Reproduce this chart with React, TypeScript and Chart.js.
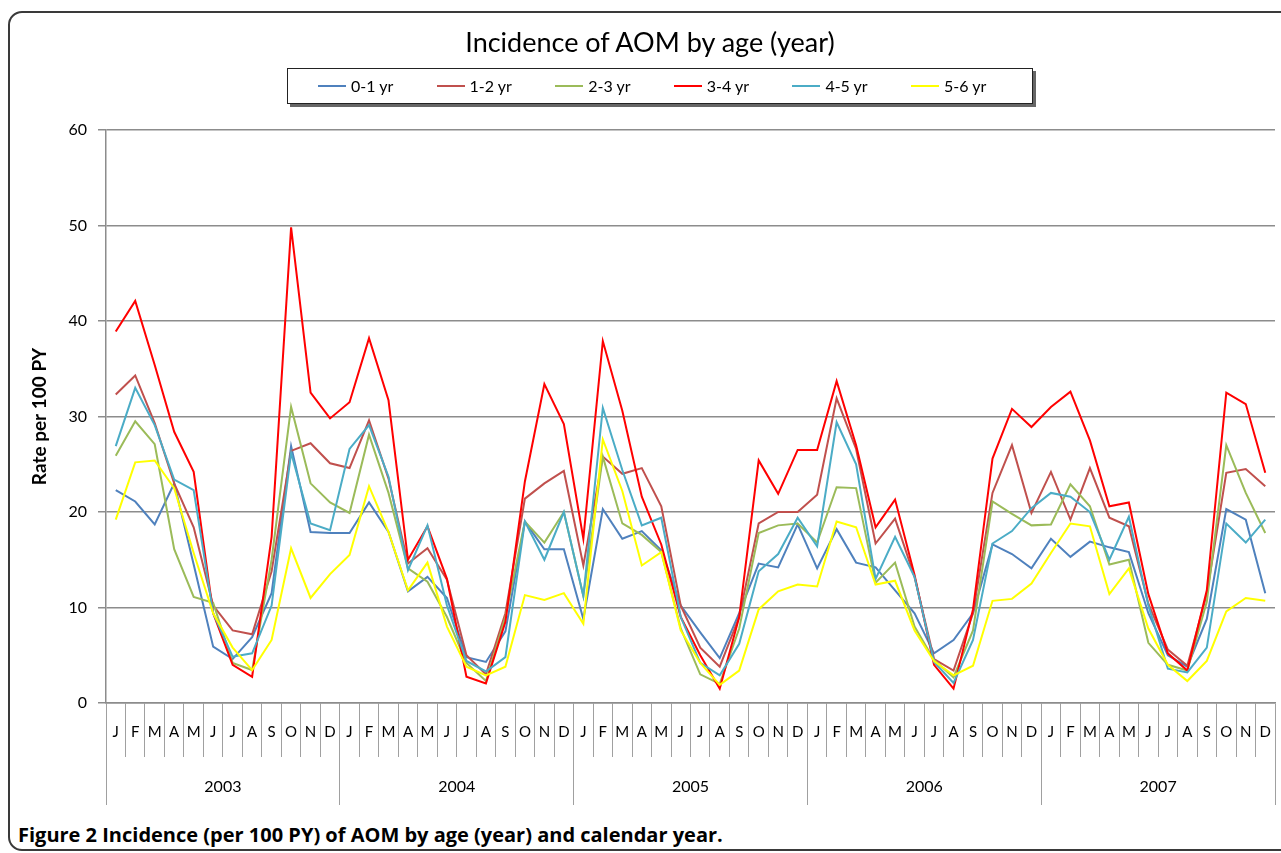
import React, { useEffect, useRef } from 'react';
import { Chart, registerables } from 'chart.js';

Chart.register(...registerables);

// ---------- data ----------
const MONTHS = ['J', 'F', 'M', 'A', 'M', 'J', 'J', 'A', 'S', 'O', 'N', 'D'];
const YEARS = ['2003', '2004', '2005', '2006', '2007'];
const CATEGORIES = YEARS.flatMap((y) => MONTHS.map((m, i) => `${y}-${i + 1}`));

const SERIES_NAMES = ['0-1 yr', '1-2 yr', '2-3 yr', '3-4 yr', '4-5 yr', '5-6 yr'];
const SERIES_COLORS = ['#4F81BD', '#C0504D', '#9BBB59', '#FF0000', '#4BACC6', '#FFFF00'];

const AGE_0_1 = [
  22.3, 21.1, 18.7, 23.0, 14.5, 5.9, 4.6, 6.9, 11.5, 26.9, 17.9, 17.8,
  17.8, 21.0, 17.9, 11.7, 13.2, 11.0, 4.8, 4.3, 7.5, 19.0, 16.1, 16.1,
  8.8, 20.3, 17.2, 18.0, 16.0, 10.2, 7.4, 4.7, 9.4, 14.6, 14.2, 18.7,
  14.1, 18.2, 14.7, 14.2, 11.8, 9.4, 5.2, 6.6, 9.4, 16.6, 15.6, 14.1,
  17.2, 15.3, 16.9, 16.3, 15.8, 9.4, 5.0, 3.8, 8.8, 20.3, 19.2, 11.5,
];
const AGE_1_2 = [
  32.3, 34.3, 29.3, 23.0, 18.4, 10.2, 7.6, 7.2, 13.8, 26.4, 27.2, 25.1,
  24.6, 29.6, 23.5, 14.6, 16.2, 12.9, 5.0, 3.0, 9.4, 21.4, 23.0, 24.3,
  14.4, 25.8, 24.0, 24.6, 20.6, 10.2, 5.8, 3.8, 9.0, 18.8, 20.0, 20.0,
  21.8, 31.9, 26.6, 16.7, 19.3, 13.2, 4.6, 3.4, 9.4, 22.0, 27.0, 19.9,
  24.2, 19.2, 24.6, 19.4, 18.5, 10.4, 5.6, 3.9, 11.4, 24.1, 24.5, 22.7,
];
const AGE_2_3 = [
  25.9, 29.5, 27.1, 16.1, 11.1, 10.5, 4.2, 3.45, 15.0, 31.0, 23.0, 21.0,
  19.9, 28.1, 22.0, 14.1, 12.7, 9.0, 4.2, 2.3, 9.0, 19.0, 16.8, 20.0,
  11.2, 25.8, 18.8, 17.6, 15.8, 7.8, 3.0, 2.0, 7.8, 17.8, 18.6, 18.8,
  16.8, 22.6, 22.5, 12.6, 14.7, 8.0, 4.5, 2.7, 7.6, 21.1, 19.8, 18.6,
  18.7, 22.9, 20.6, 14.5, 15.0, 6.3, 4.0, 3.4, 10.6, 27.0, 22.0, 17.8,
];
const AGE_3_4 = [
  38.9, 42.1, 35.4, 28.4, 24.2, 9.4, 4.0, 2.75, 17.4, 49.8, 32.5, 29.8,
  31.5, 38.2, 31.7, 15.0, 18.5, 13.0, 2.75, 2.05, 8.5, 23.2, 33.4, 29.2,
  17.2, 37.9, 30.6, 21.6, 16.6, 9.0, 5.0, 1.5, 9.0, 25.4, 21.9, 26.5,
  26.5, 33.7, 27.0, 18.4, 21.3, 13.4, 4.0, 1.5, 9.8, 25.6, 30.8, 28.9,
  31.0, 32.6, 27.5, 20.6, 21.0, 11.4, 5.2, 3.4, 11.8, 32.5, 31.3, 24.1,
];
const AGE_4_5 = [
  26.9, 33.0, 29.1, 23.4, 22.3, 9.4, 4.85, 5.2, 10.2, 26.2, 18.8, 18.1,
  26.6, 29.1, 23.7, 13.9, 18.6, 10.2, 4.4, 3.3, 4.8, 19.0, 15.0, 20.0,
  11.2, 30.9, 24.4, 18.6, 19.4, 9.0, 4.2, 2.9, 6.2, 13.8, 15.6, 19.4,
  16.4, 29.4, 25.0, 13.0, 17.4, 13.2, 4.3, 2.1, 6.6, 16.7, 18.0, 20.4,
  22.0, 21.6, 20.0, 15.0, 19.5, 10.2, 3.6, 3.2, 5.8, 18.8, 16.8, 19.2,
];
const AGE_5_6 = [
  19.2, 25.2, 25.4, 22.5, 15.7, 9.4, 5.8, 3.45, 6.6, 16.2, 11.0, 13.5,
  15.5, 22.7, 17.9, 11.8, 14.7, 8.0, 3.8, 2.9, 3.8, 11.3, 10.8, 11.5,
  8.3, 27.6, 22.2, 14.4, 15.8, 7.6, 4.2, 1.9, 3.4, 9.8, 11.7, 12.4,
  12.2, 19.0, 18.4, 12.4, 12.8, 7.6, 4.4, 2.9, 3.9, 10.7, 10.9, 12.5,
  15.7, 18.8, 18.5, 11.4, 14.1, 7.8, 4.0, 2.3, 4.4, 9.6, 11.0, 10.7,
];
const SERIES_VALUES = [AGE_0_1, AGE_1_2, AGE_2_3, AGE_3_4, AGE_4_5, AGE_5_6];

const Y_MIN = 0;
const Y_MAX = 60;
const Y_STEP = 10;

const TITLE = 'Incidence of AOM by age (year)';
const Y_TITLE = 'Rate per 100 PY';
const CAPTION = 'Figure 2 Incidence (per 100 PY) of AOM by age (year) and calendar year.';

const FONT = "Lato, 'Open Sans', 'DejaVu Sans', sans-serif";

export default function App() {
  const canvasRef = useRef<HTMLCanvasElement | null>(null);

  useEffect(() => {
    const canvas = canvasRef.current;
    if (!canvas) return;
    const chart = new Chart(canvas, {
      type: 'line',
      data: {
        labels: CATEGORIES,
        datasets: SERIES_NAMES.map((name, i) => ({
          label: name,
          data: SERIES_VALUES[i],
          borderColor: SERIES_COLORS[i],
          backgroundColor: SERIES_COLORS[i],
          borderWidth: 2,
          pointRadius: 0,
          tension: 0,
          fill: false,
          order: SERIES_NAMES.length - i,
        })),
      },
      options: {
        animation: false,
        responsive: false,
        maintainAspectRatio: false,
        events: [],
        layout: { padding: { top: 130, right: 6, bottom: 10, left: 0 } },
        plugins: {
          legend: { display: false },
          title: { display: false },
          tooltip: { enabled: false },
        },
        scales: {
          x: {
            type: 'category',
            position: 'bottom',
            offset: true,
            weight: 0,
            grid: {
              offset: true,
              drawOnChartArea: false,
              drawTicks: true,
              tickLength: 54,
              color: '#a0a0a0',
              lineWidth: 1,
            },
            border: { display: true, color: '#8c8c8c', width: 1.5 },
            ticks: {
              autoSkip: false,
              maxRotation: 0,
              minRotation: 0,
              padding: -34,
              color: '#000',
              font: { family: FONT, size: 15 },
              callback: (_v: any, idx: number) => MONTHS[idx % 12],
            },
            afterFit: (s: any) => {
              s.height = 54;
            },
          },
          x2: {
            type: 'category',
            labels: YEARS,
            position: 'bottom',
            offset: true,
            weight: 1,
            grid: {
              offset: true,
              drawOnChartArea: false,
              drawTicks: true,
              tickLength: 48,
              color: '#a0a0a0',
              lineWidth: 1,
            },
            border: { display: false },
            ticks: {
              autoSkip: false,
              maxRotation: 0,
              minRotation: 0,
              padding: -28,
              color: '#000',
              font: { family: FONT, size: 16 },
            },
            afterFit: (s: any) => {
              s.height = 48;
            },
          },
          y: {
            type: 'linear',
            min: Y_MIN,
            max: Y_MAX,
            ticks: {
              stepSize: Y_STEP,
              padding: 11,
              color: '#000',
              font: { family: FONT, size: 16 },
            },
            grid: {
              color: '#8c8c8c',
              lineWidth: 1.5,
              drawTicks: true,
              tickLength: 8,
            },
            border: { display: true, color: '#8c8c8c', width: 1.5 },
            title: {
              display: true,
              text: Y_TITLE,
              color: '#000',
              font: { family: FONT, size: 19, weight: 'bold' },
              padding: { top: 28, bottom: 0 },
            },
            afterFit: (s: any) => {
              s.width = 106;
            },
          },
        },
      },
    });
    return () => chart.destroy();
  }, []);

  return (
    <div
      style={{
        position: 'absolute',
        left: 0,
        top: 0,
        width: 1281,
        height: 853,
        overflow: 'hidden',
        background: '#fff',
      }}
    >
      <div
        style={{
          position: 'absolute',
          left: 8,
          top: 11,
          width: 1320,
          height: 840,
          border: '2px solid #3a3a3a',
          borderRadius: 14,
          boxSizing: 'border-box',
        }}
      />
      <canvas
        ref={canvasRef}
        width={1281}
        height={815}
        style={{ position: 'absolute', left: 0, top: 0, width: 1281, height: 815 }}
      />
      <div
        style={{
          position: 'absolute',
          left: 0,
          top: 26,
          width: 1300,
          textAlign: 'center',
          fontFamily: FONT,
          fontSize: 27,
          lineHeight: '32px',
          color: '#000',
        }}
      >
        {TITLE}
      </div>
      <div
        style={{
          position: 'absolute',
          left: 287,
          top: 68,
          width: 746,
          height: 36,
          border: '1.5px solid #222',
          boxShadow: '3px 3px 0 #666',
          boxSizing: 'border-box',
          background: '#fff',
        }}
      >
        {SERIES_NAMES.map((name, i) => (
          <div
            key={name}
            style={{
              position: 'absolute',
              left: 30 + 118.6 * i,
              top: 0,
              height: 33,
              display: 'flex',
              alignItems: 'center',
              fontFamily: FONT,
              fontSize: 16,
              color: '#000',
              whiteSpace: 'nowrap',
            }}
          >
            <span
              style={{
                display: 'inline-block',
                width: 28,
                height: 2,
                background: SERIES_COLORS[i],
                marginRight: 5,
              }}
            />
            <span>{name}</span>
          </div>
        ))}
      </div>
      <div
        style={{
          position: 'absolute',
          left: 18,
          top: 822,
          fontFamily: "'Open Sans', sans-serif",
          fontWeight: 'bold',
          fontSize: 20,
          lineHeight: '26px',
          color: '#000',
          whiteSpace: 'nowrap',
        }}
      >
        {CAPTION}
      </div>
    </div>
  );
}
